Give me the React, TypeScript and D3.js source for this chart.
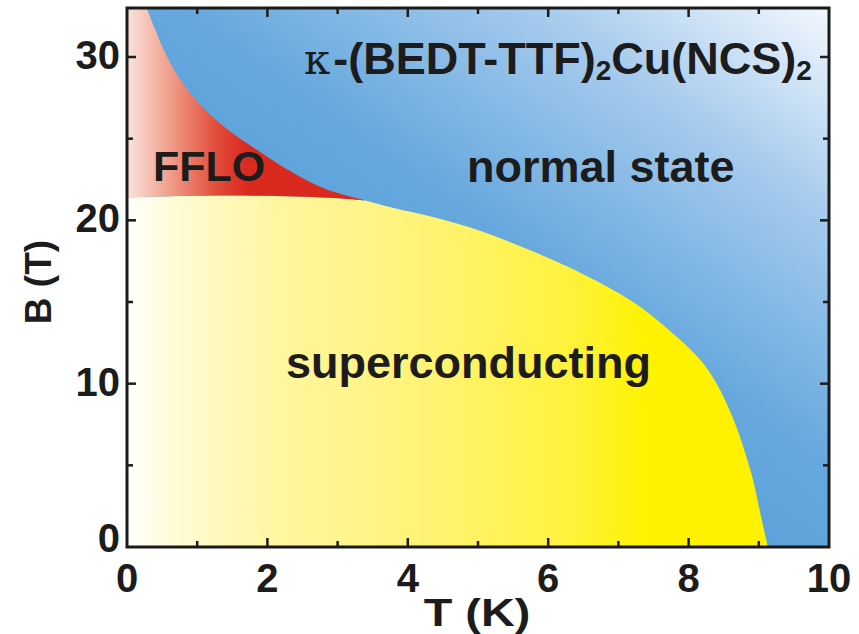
import React, { useEffect, useRef } from 'react'
import * as d3 from 'd3'

// upper critical field (normal / superconducting boundary), T in K, B in tesla
const hc2T = [9.13, 9.02, 8.9, 8.64, 8.4, 8.16, 7.69, 7.21, 6.5, 5.78, 5.07, 4.36, 3.8, 3.41]
const hc2B = [0, 2.1, 4.4, 7.8, 10.0, 11.5, 13.4, 15.0, 16.7, 18.1, 19.3, 20.2, 20.75, 21.2]

// lower edge of the FFLO pocket (Pauli limit), from the tip back to T = 0
const pauliT = [3.41, 3.0, 2.0, 1.0, 0]
const pauliB = [21.2, 21.35, 21.5, 21.5, 21.4]

// upper edge of the FFLO pocket, from the tip up to the top of the frame
const ffloT = [3.41, 2.84, 2.37, 1.89, 1.42, 1.06, 0.76, 0.55, 0.4, 0.28]
const ffloB = [21.2, 21.9, 22.9, 24.2, 25.6, 27.0, 28.6, 30.2, 31.7, 33]

const xTicks = [0, 2, 4, 6, 8, 10]
const xMinor = [1, 3, 5, 7, 9]
const yTicks = [0, 10, 20, 30]
const yMinor = [5, 15, 25]

const regionLabels = ['FFLO', 'normal state', 'superconducting']

function App() {
  const ref = useRef<HTMLDivElement>(null)

  useEffect(() => {
    const root = d3.select(ref.current)
    root.selectAll('*').remove()

    const width = 859,
      height = 634
    const x = d3.scaleLinear().domain([0, 10]).range([127, 829])
    const y = d3.scaleLinear().domain([0, 33]).range([547, 8])

    const svg = root
      .append('svg')
      .attr('width', width)
      .attr('height', height)
      .style('display', 'block')
      .style('font-family', 'Liberation Sans, Arial, sans-serif')

    const defs = svg.append('defs')

    defs
      .append('clipPath')
      .attr('id', 'plotClip')
      .append('rect')
      .attr('x', x(0))
      .attr('y', y(33))
      .attr('width', x(10) - x(0))
      .attr('height', y(0) - y(33))

    const blue = defs
      .append('linearGradient')
      .attr('id', 'blueGrad')
      .attr('gradientUnits', 'userSpaceOnUse')
      .attr('x1', x(4.4))
      .attr('y1', y(-1))
      .attr('x2', x(10))
      .attr('y2', y(33))
    ;[
      [0, '#4a96d4'],
      [0.45, '#66a8de'],
      [0.75, '#a6cbed'],
      [1, '#f3f8fd']
    ].forEach(s => blue.append('stop').attr('offset', s[0]).attr('stop-color', s[1]))

    const red = defs
      .append('linearGradient')
      .attr('id', 'redGrad')
      .attr('gradientUnits', 'userSpaceOnUse')
      .attr('x1', x(0))
      .attr('y1', 0)
      .attr('x2', x(1.7))
      .attr('y2', 0)
    ;[
      [0, '#fae4dc'],
      [0.35, '#f0a08c'],
      [0.75, '#e24c3a'],
      [1, '#da2a1e']
    ].forEach(s => red.append('stop').attr('offset', s[0]).attr('stop-color', s[1]))

    const yellow = defs
      .append('linearGradient')
      .attr('id', 'yellowGrad')
      .attr('gradientUnits', 'userSpaceOnUse')
      .attr('x1', x(0))
      .attr('y1', 0)
      .attr('x2', x(7.4))
      .attr('y2', 0)
    ;[
      [0, '#ffffff'],
      [0.1, '#fffbd2'],
      [0.3, '#fff69e'],
      [0.6, '#fff372'],
      [0.85, '#fff23c'],
      [1, '#fff200']
    ].forEach(s => yellow.append('stop').attr('offset', s[0]).attr('stop-color', s[1]))

    const line = d3
      .line<[number, number]>()
      .x(d => x(d[0]))
      .y(d => y(d[1]))
      .curve(d3.curveCatmullRom.alpha(0.5))

    const hc2 = hc2T.map((t, i) => [t, hc2B[i]] as [number, number])
    const pauli = pauliT.map((t, i) => [t, pauliB[i]] as [number, number])
    const fflo = ffloT.map((t, i) => [t, ffloB[i]] as [number, number])

    const plot = svg.append('g').attr('clip-path', 'url(#plotClip)')

    // normal state fills the whole frame
    plot
      .append('rect')
      .attr('x', x(0))
      .attr('y', y(33))
      .attr('width', x(10) - x(0))
      .attr('height', y(0) - y(33))
      .attr('fill', 'url(#blueGrad)')

    // superconducting region
    const scPath =
      'M' + x(0) + ',' + y(0) +
      line(hc2)!.replace(/^M/, 'L') +
      line(pauli)!.replace(/^M/, 'L') +
      'Z'
    plot.append('path').attr('d', scPath).attr('fill', 'url(#yellowGrad)')

    // FFLO pocket
    const last = pauli[pauli.length - 1]
    const ffloPath =
      line(fflo) +
      'L' + x(0) + ',' + y(33) +
      'L' + x(last[0]) + ',' + y(last[1]) +
      line(pauli.slice().reverse())!.replace(/^M/, 'L') +
      'Z'
    plot.append('path').attr('d', ffloPath).attr('fill', 'url(#redGrad)')

    // frame
    svg
      .append('rect')
      .attr('x', x(0))
      .attr('y', y(33))
      .attr('width', x(10) - x(0))
      .attr('height', y(0) - y(33))
      .attr('fill', 'none')
      .attr('stroke', '#1a1a1a')
      .attr('stroke-width', 3)

    const ink = '#1c1c1c'
    const ticks = svg.append('g').attr('stroke', ink).attr('stroke-width', 2.5)
    const tickSet = (vals: number[], len: number) => {
      vals.forEach(v => {
        ticks.append('line').attr('x1', x(v)).attr('x2', x(v)).attr('y1', y(0)).attr('y2', y(0) - len)
        ticks.append('line').attr('x1', x(v)).attr('x2', x(v)).attr('y1', y(33)).attr('y2', y(33) + len)
      })
    }
    const tickSetY = (vals: number[], len: number) => {
      vals.forEach(v => {
        ticks.append('line').attr('y1', y(v)).attr('y2', y(v)).attr('x1', x(0)).attr('x2', x(0) + len)
        ticks.append('line').attr('y1', y(v)).attr('y2', y(v)).attr('x1', x(10)).attr('x2', x(10) - len)
      })
    }
    tickSet(xTicks.slice(1, -1), 9)
    tickSet(xMinor, 6)
    tickSetY(yTicks.slice(1), 9)
    tickSetY(yMinor, 6)

    // tick labels
    svg
      .selectAll('.xlab')
      .data(xTicks)
      .enter()
      .append('text')
      .attr('class', 'xlab')
      .attr('x', d => x(d))
      .attr('y', 592)
      .attr('text-anchor', 'middle')
      .attr('font-size', 40)
      .attr('font-weight', 'bold')
      .attr('fill', ink)
      .text(d => d)

    svg
      .selectAll('.ylab')
      .data(yTicks)
      .enter()
      .append('text')
      .attr('class', 'ylab')
      .attr('x', 120)
      .attr('y', d => y(d) + (d === 0 ? 5 : 12))
      .attr('text-anchor', 'end')
      .attr('font-size', 40)
      .attr('font-weight', 'bold')
      .attr('fill', ink)
      .text(d => d)

    // axis titles
    svg
      .append('text')
      .attr('transform', 'translate(' + (x(5) - 1) + ',626) scale(1.2,1)')
      .attr('text-anchor', 'middle')
      .attr('font-size', 39)
      .attr('font-weight', 'bold')
      .attr('fill', ink)
      .text('T (K)')

    svg
      .append('text')
      .attr('transform', 'translate(51,282) rotate(-90)')
      .attr('text-anchor', 'middle')
      .attr('font-size', 37)
      .attr('font-weight', 'bold')
      .attr('fill', ink)
      .text('B (T)')

    // region labels
    const labelPos = [
      [153, 181, 43],
      [467, 182, 45],
      [286, 378, 45]
    ]
    regionLabels.forEach((t, i) => {
      svg
        .append('text')
        .attr('x', labelPos[i][0])
        .attr('y', labelPos[i][1])
        .attr('font-size', labelPos[i][2])
        .attr('font-weight', 'bold')
        .attr('fill', ink)
        .text(t)
    })

    // compound name
    const title = svg
      .append('text')
      .attr('x', 304)
      .attr('y', 74)
      .attr('font-size', 45)
      .attr('font-weight', 'bold')
      .attr('fill', ink)
    title
      .append('tspan')
      .attr('font-family', 'DejaVu Serif, Liberation Serif, serif')
      .attr('font-weight', 'normal')
      .attr('font-size', 42)
      .text('κ')
    title.append('tspan').attr('dx', 3).text('-(BEDT-TTF)')
    title.append('tspan').attr('dy', 6).attr('font-size', 28).text('2')
    title.append('tspan').attr('dy', -6).text('Cu(NCS)')
    title.append('tspan').attr('dy', 6).attr('font-size', 28).text('2')
  }, [])

  return <div ref={ref} style={{ position: 'absolute', left: 0, top: 0 }}></div>
}

export default App
